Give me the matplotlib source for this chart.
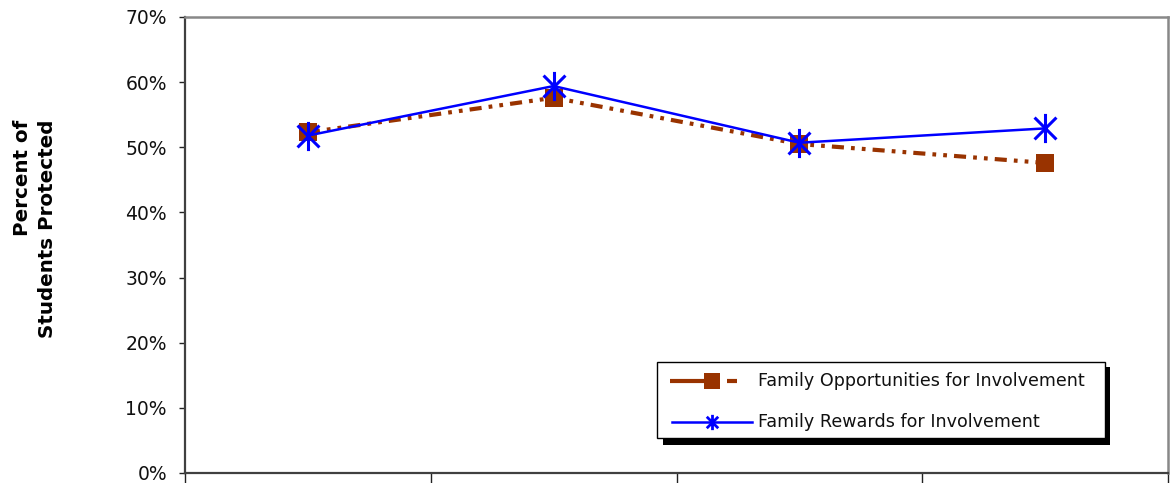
import matplotlib
matplotlib.use("Agg")
import matplotlib.pyplot as plt
from matplotlib.path import Path
from matplotlib.patches import Rectangle
from matplotlib.lines import Line2D
import numpy as np

categories = ["A", "B", "C", "D"]
opportunities = [52.3, 57.6, 50.5, 47.6]
rewards = [51.8, 59.4, 50.7, 52.9]
yticks = [0, 10, 20, 30, 40, 50, 60, 70]
ytick_labels = ["0%", "10%", "20%", "30%", "40%", "50%", "60%", "70%"]
series_names = ["Family Opportunities for Involvement", "Family Rewards for Involvement"]

plt.rcParams['font.family'] = ['DejaVu Sans']

W, H = 1173, 483
fig = plt.figure(figsize=(W/100, H/100), dpi=100)
ax = fig.add_axes([185/W, 1 - 473/H, (1168 - 185)/W, (473 - 17)/H])

x = np.arange(len(categories))

star = Path([(0, -1), (0, 1), (-0.75, -0.75), (0.75, 0.75), (-0.75, 0.75), (0.75, -0.75)],
            [Path.MOVETO, Path.LINETO, Path.MOVETO, Path.LINETO, Path.MOVETO, Path.LINETO])

ORANGE = "#993300"
BLUE = "#0000FF"
opp_dashes = (2.9, 1.7, 0.9, 1.7, 0.9, 1.7)

ax.plot(x, opportunities, color=ORANGE, lw=3.0, dashes=opp_dashes, marker="s",
        markersize=13, markeredgewidth=0, zorder=3)
ax.plot(x, rewards, color=BLUE, lw=1.8, marker=star, markersize=21,
        markeredgewidth=2.2, markerfacecolor="none", zorder=4)

ax.set_xlim(-0.5, len(categories) - 0.5)
ax.set_ylim(0, 70)
ax.set_xticks(np.arange(-0.5, len(categories)))
ax.set_xticklabels([])
ax.set_yticks(yticks)
ax.set_yticklabels(ytick_labels, fontsize=13.5, color="#111111")
ax.tick_params(axis="x", direction="out", length=7.5, width=1, color="#222222")
ax.tick_params(axis="y", direction="out", length=4, width=1, color="#222222", pad=9)

for s in ["left", "bottom"]:
    ax.spines[s].set_color("#404040")
    ax.spines[s].set_linewidth(1.6)
for s in ["top", "right"]:
    ax.spines[s].set_color("#888888")
    ax.spines[s].set_linewidth(1.8)

fig.text(35/W, 1 - 229/H, "Percent of\nStudents Protected", rotation=90,
         ha="center", va="center", multialignment="right",
         fontsize=14.3, fontweight="bold", linespacing=1.35)

# legend (drawn manually) with shadow
def fx(px):
    return px / W

def fy(py):
    return 1 - py / H

lx0, ly0, lx1, ly1 = 657, 362, 1105, 438
fig.patches.append(Rectangle((fx(663), fy(445)), fx(1110) - fx(663), fy(367) - fy(445),
                             transform=fig.transFigure, facecolor="black", edgecolor="none", zorder=5))
fig.patches.append(Rectangle((fx(lx0), fy(ly1)), fx(lx1) - fx(lx0), fy(ly0) - fy(ly1),
                             transform=fig.transFigure, facecolor="white", edgecolor="black",
                             linewidth=1, zorder=6))
r1, r2 = 381, 422
fig.add_artist(Line2D([fx(670), fx(706)], [fy(r1), fy(r1)], color=ORANGE, lw=3.0,
                      solid_capstyle="butt", transform=fig.transFigure, zorder=7))
fig.add_artist(Line2D([fx(727), fx(737)], [fy(r1), fy(r1)], color=ORANGE, lw=3.0,
                      solid_capstyle="butt", transform=fig.transFigure, zorder=7))
fig.add_artist(Line2D([fx(712)], [fy(r1)], color=ORANGE, lw=0, marker="s", markersize=11,
                      markeredgewidth=0, transform=fig.transFigure, zorder=8))
fig.add_artist(Line2D([fx(672), fx(752)], [fy(r2), fy(r2)], color=BLUE, lw=1.8,
                      transform=fig.transFigure, zorder=7))
fig.add_artist(Line2D([fx(712)], [fy(r2)], color=BLUE, lw=0, marker=star, markersize=11,
                      markeredgewidth=2, markerfacecolor="none", transform=fig.transFigure, zorder=8))
fig.text(fx(758), fy(r1), series_names[0], fontsize=12.6, va="center", ha="left",
         color="#111111", zorder=8)
fig.text(fx(758), fy(r2), series_names[1], fontsize=12.6, va="center", ha="left",
         color="#111111", zorder=8)

fig.savefig("out.png", dpi=100)
